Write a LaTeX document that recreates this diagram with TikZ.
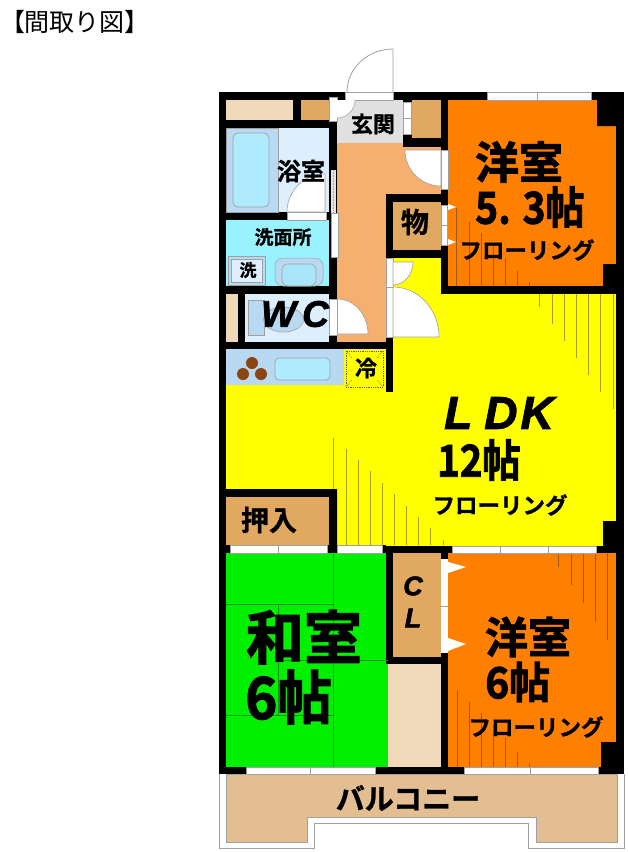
\documentclass[tikz,border=0pt]{standalone}
\usepackage{graphicx}
\usepackage{fontspec}
\newfontfamily\jpb[FakeBold=1]{Noto Sans CJK JP Bold}
\newfontfamily\jpx[FakeBold=2]{Noto Sans CJK JP Bold}
\newfontfamily\jpr{Noto Sans CJK JP}
\newfontfamily\latx[UprightFont={* Bold Italic},FakeBold=2]{Liberation Sans}
\setmainfont{Liberation Sans}
\newcommand{\fs}[1]{\fontsize{#1}{#1}\selectfont}
\newcommand{\nar}[2]{\scalebox{#1}[1]{#2}}
\definecolor{beige}{HTML}{F0D9B8}
\definecolor{tan1}{HTML}{E0A860}
\definecolor{hall}{HTML}{F5B070}
\definecolor{gray1}{HTML}{E0E0E0}
\definecolor{bathL}{HTML}{DDEEFC}
\definecolor{bathD}{HTML}{B9D9F2}
\definecolor{tub}{HTML}{AEEBFF}
\definecolor{wash}{HTML}{99F3FF}
\definecolor{org}{HTML}{FF8000}
\definecolor{yel}{HTML}{FFFF00}
\definecolor{grn}{HTML}{00F000}
\definecolor{balc}{HTML}{E3BE92}
\definecolor{lineg}{HTML}{A0A0A0}
\definecolor{fl}{HTML}{A8A020}
\definecolor{flo}{HTML}{A05A10}
\definecolor{tat}{HTML}{0C9A0C}
\definecolor{burner}{HTML}{8B4513}
\tikzset{
 x=1pt,y=-1pt,
 winfill/.style={fill=white,draw=lineg,line width=0.6pt},
 flline/.style={draw=fl,line width=0.6pt},
 floline/.style={draw=flo,line width=0.6pt},
 tatline/.style={draw=tat,line width=0.5pt},
 doorarc/.style={fill=white,draw=lineg,line width=0.6pt},
 lab/.style={inner sep=0pt,text=black},
}
\begin{document}
\begin{tikzpicture}
\useasboundingbox (0,0) rectangle (628,852);
\fill[white] (0,0) rectangle (628,852);
% title
\node[inner sep=0pt,font=\jpr\fs{25}] (title) at (75,22) {【間取り図】};
% balcony
\draw[lineg,line width=1pt] (219,774) -- (219,848) -- (314,848) -- (314,823) -- (528,823) -- (528,848) -- (624,848) -- (624,774);
\fill[balc,draw=lineg,line width=0.5pt] (226,774) -- (226,842) -- (307,842) -- (307,817) -- (536,817) -- (536,842) -- (617,842) -- (617,774) -- cycle;
% entrance door
\draw[lineg,fill=white,line width=0.8pt] (347,92) arc[start angle=180,end angle=270,x radius=46,y radius=43] -- (393,92);
% whole wall slab
\fill (219,92) rectangle (624,774);
% rooms
\fill[beige] (226,100) rectangle (293,120);
\fill[tan1] (301,100) rectangle (329,120);
\fill[gray1] (337,100) rectangle (403,143);
\fill[hall] (337,143) rectangle (386,342);
\fill[hall] (337,147) rectangle (441,194);
\fill[hall] (337,143) rectangle (403,150);
\fill[tan1] (412,100) rectangle (441,138);
\fill[tan1] (393,202) rectangle (441,250);
% bath
\fill[bathL] (226,128) rectangle (329,212);
\fill[bathD,draw=lineg,line width=0.5pt] (226,128) rectangle (278,212);
\fill[tub,draw=lineg,line width=0.7pt,rounded corners=5pt] (233,133) rectangle (269,207);
% wash
\fill[wash] (226,220) rectangle (329,286);
\fill[bathD,draw=lineg,line width=0.7pt] (228,256) rectangle (265,285);
\fill[bathL,draw=lineg,line width=0.7pt] (231,259) rectangle (262,282);
\fill[bathD,draw=lineg,line width=0.5pt,rounded corners=8pt] (275,286) -- (275,258) -- (323,258) -- (323,286) -- cycle;
\fill[wash!50!bathD,draw=lineg,line width=0.6pt,rounded corners=6pt] (282,286) -- (282,264) -- (316,264) -- (316,286) -- cycle;
% WC
\fill[beige] (226,294) rectangle (238,342);
\fill[bathL] (245,294) rectangle (329,342);
\fill[bathD,draw=lineg,line width=0.6pt] (248,300) rectangle (264,335);
\fill[bathD,draw=lineg,line width=0.6pt] (283.5,319.5) ellipse[x radius=20,y radius=12.5];
% kitchen
\fill[yel] (226,385) rectangle (386,489);
\fill[yel] (393,258) rectangle (441,349);
\fill[yel] (393,294) rectangle (616,546);
\fill[yel] (386,392) rectangle (393,546);
\fill[yel] (337,489) rectangle (386,545);
\fill[bathD] (226,349) rectangle (344,385);
\fill[tub,draw=lineg,line width=0.7pt,rounded corners=4pt] (275,358) rectangle (330,380);
\fill[burner] (252,363) circle[radius=6] (243,374) circle[radius=6] (261,374) circle[radius=6];
\fill[yel] (344,349) rectangle (386,388);
\draw[black!70!yellow,densely dotted,line width=0.8pt] (346,351) rectangle (383,387);
\draw[black!70!yellow,densely dotted,line width=0.6pt] (346,351) -- (352,358) (383,351) -- (377,358) (346,387) -- (352,380) (383,387) -- (377,380);
% washitsu
\fill[grn] (226,553) rectangle (386,767);
\fill[grn] (386,664) rectangle (388,767);
\draw[tatline] (226,604) -- (333,604) (333,553) -- (333,767) (278,604) -- (278,715) (226,715) -- (333,715) (278,660) -- (388,660);
\fill[beige] (388,664) rectangle (441,767);
\fill[tan1] (393,553) rectangle (441,657);
% western rooms
\fill[org] (448,100) rectangle (616,286);
\fill[org] (448,553) rectangle (616,767);
\fill (597,100) rectangle (616,126) (603,264) rectangle (616,286) (603,521) rectangle (616,546) (601,742) rectangle (616,767);
% flooring lines
\foreach \a/\b in {456/208,469/222,481/233,493/245,505/258,517/271,529/282}
  \draw[floline] (\a,286) -- (\a,\b);
\foreach \a/\b in {539/307,552/324,564/341,576/358,588/375,600/392,613/409}
  \draw[flline] (\a,294) -- (\a,\b);
\foreach \a/\b in {333/438,346/449,358/460,370/471,382/483,394/494,406/506,418/517,430/528,443/540}
  \draw[flline] (\a,545) -- (\a,\b);
\foreach \a/\b in {558/567,571/585,583/603,595/622,607/640}
  \draw[floline] (\a,553) -- (\a,\b);
\foreach \a/\b in {457/690,469/702,481/713,493/725,505/738,517/752,529/763}
  \draw[floline] (\a,767) -- (\a,\b);
% closet (over the flooring lines)
\fill (219,489) rectangle (337,497) (329,497) rectangle (337,546);
\fill[tan1] (226,497) rectangle (329,545);
% windows
\fill[winfill] (487,92) rectangle (591,100);
\draw[lineg,line width=0.5pt] (537,92) -- (537,100);
\fill[winfill] (230,545) rectangle (327,553);
\draw[lineg,line width=0.5pt] (278,545) -- (278,553);
\fill[winfill] (337,545) rectangle (382,553);
\fill[winfill] (452,546) rectangle (596,553);
\draw[lineg,line width=0.5pt] (500,546) -- (500,553) (548,546) -- (548,553);
\fill[winfill] (246,767) rectangle (375,774);
\draw[lineg,line width=0.5pt] (310,767) -- (310,774);
\fill[winfill] (464,767) rectangle (598,774);
\draw[lineg,line width=0.5pt] (530,767) -- (530,774);
% entrance opening
\fill[winfill] (345,92) rectangle (393,100);
% doors
\fill[winfill] (329,97) rectangle (337,121);
\fill[white] (337,100) -- (355,100) arc[start angle=0,end angle=90,radius=18] -- cycle;
\draw[lineg,line width=0.5pt] (355,100) arc[start angle=0,end angle=90,radius=18];
\fill[winfill] (403,102) rectangle (411,134);
\draw[lineg,line width=0.5pt] (403,118) -- (411,118);
\fill[doorarc] (441,150) -- (405,150) arc[start angle=180,end angle=90,radius=36] -- cycle;
\fill[winfill] (441,150) rectangle (448,189);
\fill[winfill] (441,205) rectangle (447,245);
\draw[lineg,line width=0.5pt] (441,225) -- (447,225);
\fill[white] (448,204) -- (456,207) -- (448,210) -- cycle (448,239) -- (456,242) -- (448,245) -- cycle;
% bath door
\fill[doorarc] (325,212) -- (287,212) arc[start angle=180,end angle=270,radius=38] -- cycle;
\fill[winfill] (287,212) rectangle (326,220);
% sliding door bath/wash
\fill[white!80!gray] (331,170) rectangle (336,213);
\draw[lineg,densely dotted,line width=0.6pt] (333,170) -- (333,213);
\fill[winfill] (331,213) rectangle (338,257);
% WC door
\fill[doorarc] (337,334) -- (368,334) arc[start angle=0,end angle=-90,x radius=31,y radius=35] -- cycle;
\fill[winfill] (329,299) rectangle (337,335);
% LDK doors
\fill[winfill] (386,258) rectangle (393,337);
\draw[lineg,line width=0.5pt] (386,287) -- (393,287);
\fill[doorarc] (393,262) -- (413,262) arc[start angle=0,end angle=90,x radius=20,y radius=23] -- cycle;
\fill[doorarc] (393,337) -- (439,337) arc[start angle=0,end angle=-90,x radius=46,y radius=50] -- cycle;
% CL doors
\fill[white] (441,559) rectangle (448,653);
\draw[lineg,line width=0.5pt] (439,606) -- (448,606);
\fill[white] (448,562) -- (466,567) -- (448,573) -- cycle (448,638) -- (466,644) -- (448,651) -- cycle;
% labels
\node[lab,font=\jpb\fs{22}] (genkan) at (373,124) {玄関};
\node[lab,font=\jpb\fs{24}] (bath) at (301,171) {浴室};
\node[lab,font=\jpb\fs{28}] (mono) at (415,222) {物};
\node[lab,font=\jpb\fs{19}] (senmen) at (283,237) {洗面所};
\node[lab,font=\jpb\fs{17}] (sentaku) at (248,270) {洗};
\node[lab,font=\latx\fs{37}] (wc) at (295,314) {W\,C};
\node[lab,font=\jpb\fs{22}] (rei) at (366,368) {冷};
\node[lab,font=\jpb\fs{28}] (oshi) at (269,520) {押入};
\node[lab,font=\jpx\fs{58}] (wa) at (304,637) {和室};
\node[lab,font=\jpx\fs{58},anchor=west] (waj) at (245,697) {\nar{0.94}{6帖}};
\node[lab,font=\latx\fs{27}] (c) at (413,586) {C};
\node[lab,font=\latx\fs{27}] (l) at (413,618) {L};
\node[lab,font=\jpx\fs{43}] (y2) at (528,637) {洋室};
\node[lab,font=\jpx\fs{43},anchor=west] (y2j) at (485,682) {\nar{0.95}{6帖}};
\node[lab,font=\jpb\fs{22.5}] (f2) at (536,727) {フローリング};
\node[lab,font=\jpx\fs{44}] (y1) at (519,162) {洋室};
\node[lab,font=\jpx\fs{44},anchor=west] (y1j) at (475,207) {\nar{0.885}{5. 3帖}};
\node[lab,font=\jpb\fs{22.5}] (f1) at (527,250) {フローリング};
\node[lab,font=\latx\fs{46}] (ldk) at (499,413) {L\hspace{12pt}D\hspace{3pt}K};
\node[lab,font=\jpx\fs{44},anchor=west] (ldkj) at (437,460) {\nar{0.87}{12帖}};
\node[lab,font=\jpb\fs{22.5}] (f3) at (500,505) {フローリング};
\node[lab,font=\jpb\fs{29}] (bal) at (408,798) {バルコニー};
\end{tikzpicture}
\end{document}
